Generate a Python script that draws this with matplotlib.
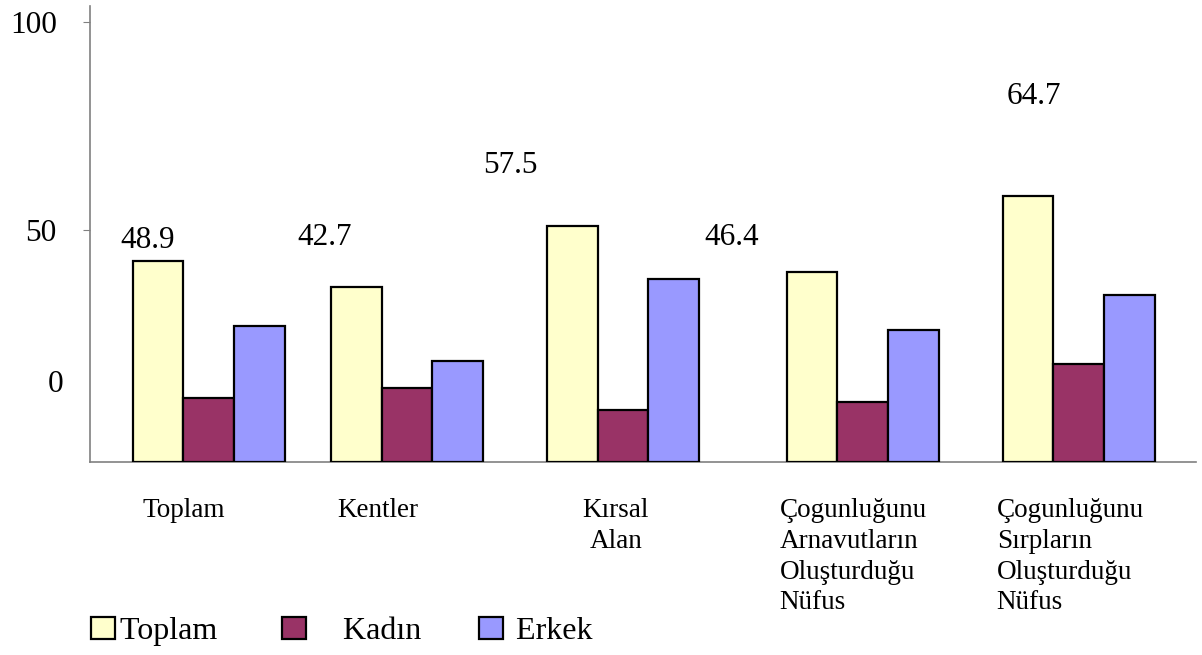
import matplotlib
matplotlib.use("Agg")
import matplotlib.pyplot as plt
import matplotlib.transforms as mtransforms

plt.rcParams['font.family'] = ['Liberation Serif', 'DejaVu Serif']

categories = ["Toplam", "Kentler", "Kırsal\nAlan",
              "Çogunluğunu\nArnavutların\nOluşturduğu\nNüfus",
              "Çogunluğunu\nSırpların\nOluşturduğu\nNüfus"]
toplam = [48.9, 42.7, 57.5, 46.4, 64.7]
kadin = [15.8, 18.0, 12.8, 14.6, 23.9]
erkek = [33.2, 24.8, 44.7, 32.2, 40.7]
series_names = ["Toplam", "Kadın", "Erkek"]
ytick_labels = ["100", "50"]

# layout (the original slide spaces groups unevenly and puts labels off the bars)
group_pos = [2.34, 6.25, 10.51, 15.24, 19.5]
value_label_pos = [(1.14, 53.9), (4.62, 54.6), (8.28, 72.3), (12.66, 54.6), (18.62, 89.1)]
cat_label_x = [1.03, 4.87, 10.37, 13.6, 17.88]
cat_label_ha = ["left", "left", "center", "left", "left"]
ytick_pos = [107.1, 56.5]

colors = ["#FFFFCC", "#993366", "#9999FF"]

fig = plt.figure(figsize=(12.02, 6.55), dpi=100)
ax = fig.add_axes([0.0749, 0.2939, 0.9201, 0.6969])

bars = []
for i, (vals, col) in enumerate(zip([toplam, kadin, erkek], colors)):
    xs = [g + (i - 1) for g in group_pos]
    b = ax.bar(xs, vals, width=1.0, color=col, edgecolor="black", linewidth=1.6,
               label=series_names[i], zorder=3)
    bars.append(b)

for v, (lx, ly) in zip(toplam, value_label_pos):
    ax.text(lx, ly, f"{v:.1f}", fontsize=22.5, ha="center", va="center")

trans = mtransforms.blended_transform_factory(ax.transData, ax.transAxes)
for name, x, ha in zip(categories, cat_label_x, cat_label_ha):
    ax.text(x, -0.078, name, transform=trans, fontsize=19.5, ha=ha, va="top",
            multialignment=ha, linespacing=1.3)

ax.set_xlim(0, 21.81)
ax.set_ylim(0, 111.0)
ax.set_xticks([])
ax.set_yticks(ytick_pos)
ax.set_yticklabels(ytick_labels)
ax.tick_params(axis="y", length=5, pad=19, labelsize=22.5, color="#808080")
ytrans = mtransforms.blended_transform_factory(ax.transAxes, ax.transData)
ax.text(-0.0244, 19.8, "0", transform=ytrans, fontsize=22.5, ha="right", va="center_baseline")

for s in ["top", "right"]:
    ax.spines[s].set_visible(False)
ax.spines["left"].set_color("#808080")
ax.spines["bottom"].set_color("#808080")
ax.spines["left"].set_linewidth(1.2)
ax.spines["bottom"].set_linewidth(1.2)

fig.legend(handles=bars, labels=["Toplam ", "    Kadın", " Erkek"], loc="center left",
           bbox_to_anchor=(0.0757, 0.036), ncol=3, frameon=False, fontsize=23,
           handlelength=0.75, handleheight=0.72, handletextpad=0.15,
           columnspacing=1.8, borderpad=0, borderaxespad=0)

fig.savefig("out.png", dpi=100)
